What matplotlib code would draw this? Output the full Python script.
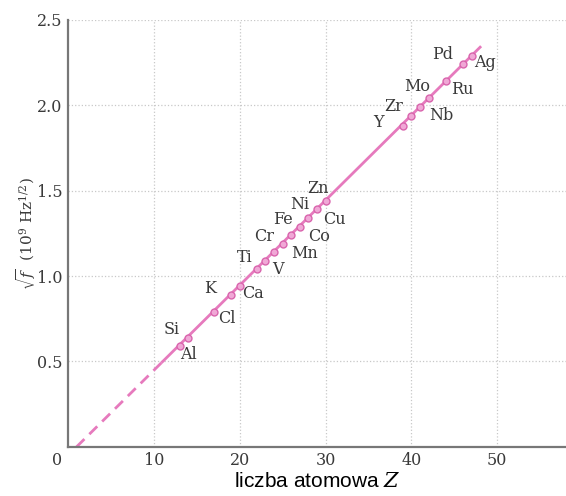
import numpy as np
import matplotlib.pyplot as plt

plt.rcParams['mathtext.fontset'] = 'dejavuserif'

# pierwiastki, liczba atomowa i sqrt(f) w 10^9 Hz^1/2
elements = ['Al', 'Si', 'Cl', 'K', 'Ca', 'Ti', 'V', 'Cr', 'Mn', 'Fe', 'Co',
            'Ni', 'Cu', 'Zn', 'Y', 'Zr', 'Nb', 'Mo', 'Ru', 'Pd', 'Ag']
Z = [13, 14, 17, 19, 20, 22, 23, 24, 25, 26, 27,
     28, 29, 30, 39, 40, 41, 42, 44, 46, 47]
sqrt_f = [0.59, 0.64, 0.79, 0.89, 0.94, 1.04, 1.09, 1.14, 1.19, 1.24, 1.29,
          1.34, 1.39, 1.44, 1.88, 1.94, 1.99, 2.04, 2.14, 2.24, 2.29]

# polozenia podpisow (Z, sqrt f)
label_pos = [(14.0, 0.54), (12.1, 0.69), (18.5, 0.75), (16.5, 0.93), (21.6, 0.90),
             (20.6, 1.11), (24.5, 1.04), (22.9, 1.23), (27.6, 1.13), (25.1, 1.33),
             (29.2, 1.23), (27.0, 1.42), (31.0, 1.33), (29.1, 1.51), (36.2, 1.90),
             (37.9, 1.99), (43.5, 1.94), (40.7, 2.11), (45.9, 2.09), (43.6, 2.30),
             (48.6, 2.25)]

# linia dopasowania
fit_solid_z = [11, 48]
fit_solid_y = [0.498, 2.34]
fit_dash_z = [1, 11]
fit_dash_y = [0.0, 0.498]

pink = '#e67abd'
txt = '#3a3a3a'
serif = 'DejaVu Serif'

fig = plt.figure(figsize=(5.66, 4.96), dpi=100)
ax = fig.add_axes([0.120, 0.099, 0.880, 0.861])

ax.plot(fit_dash_z, fit_dash_y, color=pink, lw=2.0, ls=(0, (4, 2.5)))
ax.plot(fit_solid_z, fit_solid_y, color=pink, lw=2.0)
ax.plot(Z, sqrt_f, 'o', ms=5, mfc='#f0a8d6', mec='#d965ad', mew=1.0)

for name, (zx, yy) in zip(elements, label_pos):
    ax.text(zx, yy, name, ha='center', va='center', fontsize=11.5,
            family=serif, color=txt)

ax.set_xlim(0, 58)
ax.set_ylim(0, 2.5)
ax.set_xticks([10, 20, 30, 40, 50])
ax.set_yticks([0.5, 1.0, 1.5, 2.0, 2.5])
ax.set_yticklabels(['0.5', '1.0', '1.5', '2.0', '2.5'])
ax.tick_params(length=0, labelsize=11.5, colors=txt)
ax.tick_params(axis='x', pad=4)
ax.tick_params(axis='y', pad=4)
for lab in ax.get_xticklabels() + ax.get_yticklabels():
    lab.set_family(serif)

ax.grid(True, color='#c8c8c8', ls=':', lw=0.9)
ax.set_axisbelow(True)
for s in ['top', 'right']:
    ax.spines[s].set_visible(False)
for s in ['left', 'bottom']:
    ax.spines[s].set_color('#777777')
    ax.spines[s].set_linewidth(1.6)

ax.text(-0.012, -0.012, '0', transform=ax.transAxes, ha='right', va='top',
        fontsize=11.5, family=serif, color=txt)

fig.text(0.56, 0.030, 'liczba atomowa $\\mathit{Z}$', ha='center', va='center',
         fontsize=15, family='Liberation Sans')
fig.text(0.046, 0.53, '$\\sqrt{f}$  (10$^9$ Hz$^{1/2}$)', rotation=90,
         ha='center', va='center', fontsize=11, family=serif,
         color=txt)

plt.savefig('out.png', dpi=100)
